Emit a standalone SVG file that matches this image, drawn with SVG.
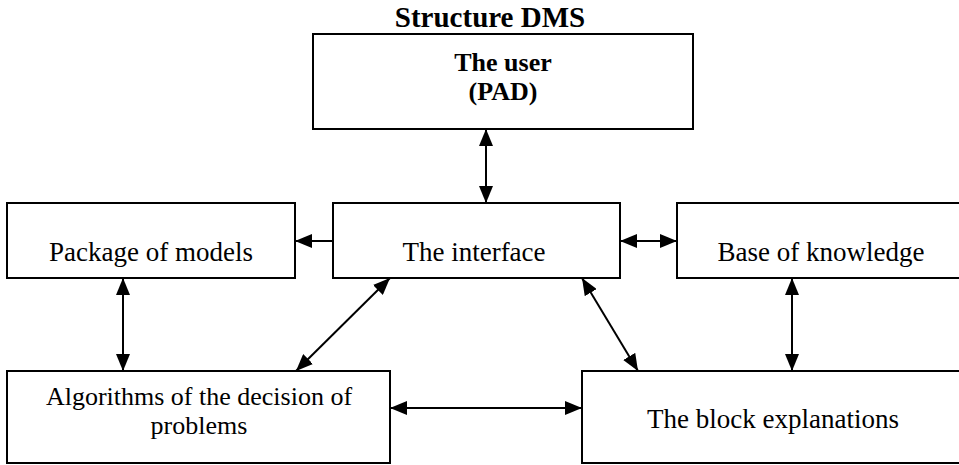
<svg xmlns="http://www.w3.org/2000/svg" width="959" height="465" viewBox="0 0 959 465">
<style>
.box{fill:#fff;stroke:#000;stroke-width:2}
.t{font-family:"Liberation Serif","Times New Roman",serif;font-size:27px;fill:#000;text-anchor:middle}
.b{font-weight:bold;font-size:28px}
.s{font-size:26px}
.c{stroke:#000;stroke-width:2;fill:none}
</style>
<defs>
<marker id="ah" markerUnits="userSpaceOnUse" markerWidth="18" markerHeight="14" refX="17" refY="7" orient="auto-start-reverse" viewBox="0 0 18 14">
<path d="M0,0 L17,7 L0,14 z" fill="#000"/>
</marker>
</defs>
<rect width="959" height="465" fill="#fff"/>
<text class="t b" x="490" y="27" style="font-size:29px">Structure DMS</text>
<g id="user"><rect class="box" x="313" y="34" width="380" height="95"/><text class="t b s" x="503" y="71">The user</text><text class="t b s" x="503" y="100">(PAD)</text></g>
<g id="interface"><rect class="box" x="333" y="203" width="287" height="75"/><text class="t" x="474" y="261">The interface</text></g>
<g id="package"><rect class="box" x="7" y="203" width="288" height="75"/><text class="t" x="151" y="261">Package of models</text></g>
<g id="base"><rect class="box" x="677" y="203" width="290" height="75"/><text class="t" x="821" y="261">Base of knowledge</text></g>
<g id="algorithms"><rect class="box" x="7" y="371" width="383" height="92"/><text class="t s" x="199" y="405">Algorithms of the decision of</text><text class="t s" x="199" y="434">problems</text></g>
<g id="block"><rect class="box" x="582" y="371" width="385" height="92"/><text class="t" x="773" y="428">The block explanations</text></g>
<g id="connectors">
<line class="c" x1="486" y1="129" x2="486" y2="203" marker-start="url(#ah)" marker-end="url(#ah)"/>
<line class="c" x1="333" y1="241" x2="295" y2="241" marker-end="url(#ah)"/>
<line class="c" x1="620" y1="241" x2="677" y2="241" marker-start="url(#ah)" marker-end="url(#ah)"/>
<line class="c" x1="123" y1="278" x2="123" y2="371" marker-start="url(#ah)" marker-end="url(#ah)"/>
<line class="c" x1="390" y1="278" x2="296" y2="371" marker-start="url(#ah)" marker-end="url(#ah)"/>
<line class="c" x1="582" y1="278" x2="638" y2="371" marker-start="url(#ah)" marker-end="url(#ah)"/>
<line class="c" x1="792" y1="278" x2="792" y2="371" marker-start="url(#ah)" marker-end="url(#ah)"/>
<line class="c" x1="390" y1="408" x2="582" y2="408" marker-start="url(#ah)" marker-end="url(#ah)"/>
</g>
</svg>
